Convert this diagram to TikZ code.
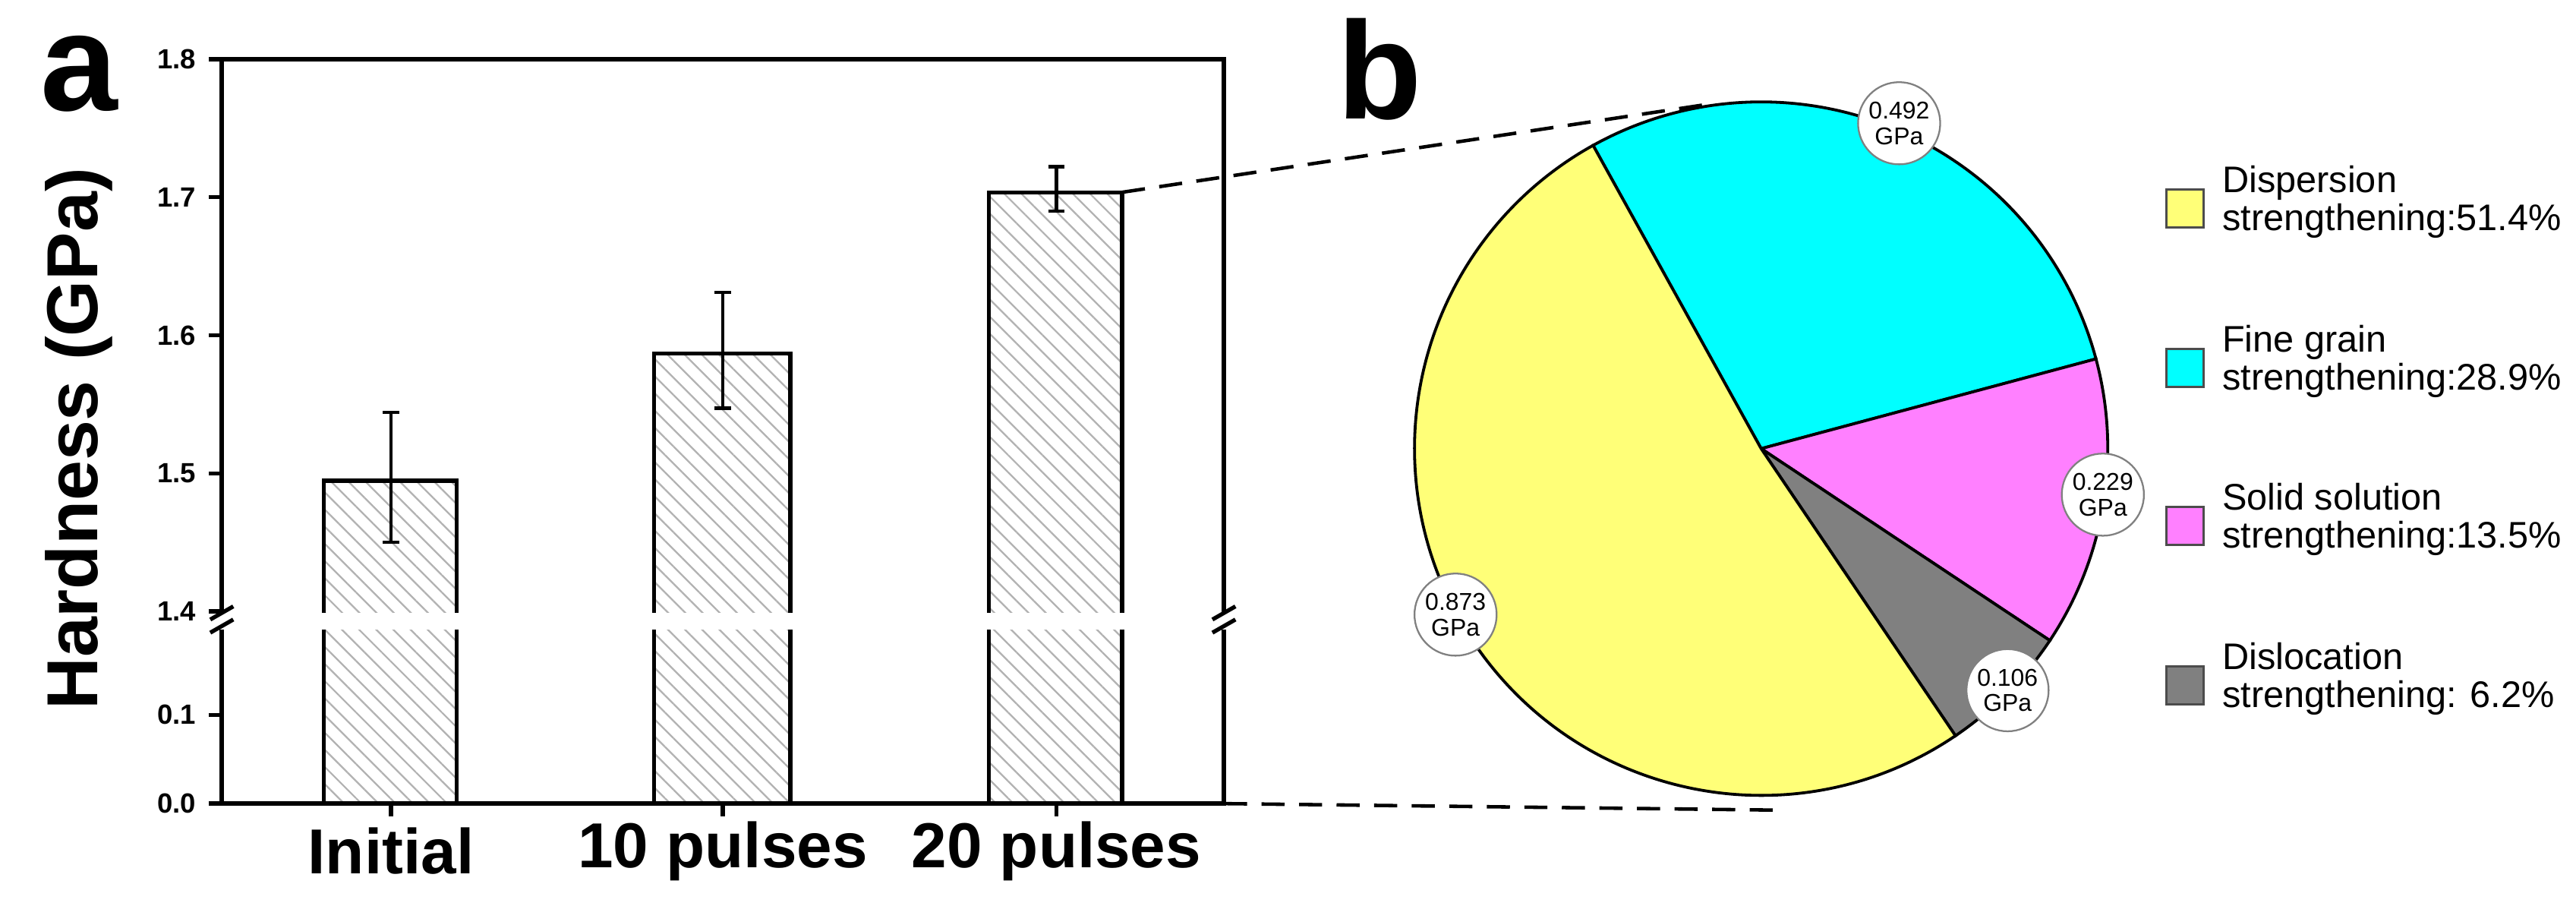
\documentclass[tikz,border=0pt]{standalone}
\usepackage{fontspec}
\setmainfont{Liberation Sans}
\usetikzlibrary{patterns.meta}
\definecolor{pyellow}{RGB}{255,255,120}
\definecolor{pcyan}{RGB}{0,255,255}
\definecolor{ppink}{RGB}{255,128,255}
\definecolor{pgray}{RGB}{128,128,128}
\begin{document}
\begin{tikzpicture}[x=0.01cm,y=-0.01cm,
  ax/.style={line width=0.7pt},
  barbox/.style={line width=0.7pt, pattern={Lines[angle=-45,distance=2.1pt,line width=0.3pt]}, pattern color=black!30},
  errb/.style={line width=0.6pt},
  ticklab/.style={font=\bfseries\fontsize{4.8}{5.5}\selectfont, anchor=east, inner sep=0pt},
  catlab/.style={font=\bfseries\fontsize{11}{12}\selectfont, inner sep=0pt},
  panel/.style={font=\bfseries\fontsize{24}{26}\selectfont, inner sep=0pt},
  vallab/.style={circle, draw=black!50, fill=white, line width=0.3pt, minimum size=50*0.01cm, inner sep=0pt, align=center, font=\fontsize{4.2}{4.4}\selectfont},
  legbox/.style={draw=black!70, line width=0.4pt, minimum size=23*0.01cm, inner sep=0pt},
  legtext/.style={anchor=west, align=left, inner sep=0pt, font=\fontsize{6.4}{6.6}\selectfont},
  dashl/.style={dashed, line width=0.6pt, dash pattern=on 4pt off 2.5pt}]
\useasboundingbox (0,0) rectangle (1568,551);
% bars
\draw[barbox] (197,489) rectangle (278,292.5);
\draw[barbox] (398,489) rectangle (481,215.2);
\draw[barbox] (602,489) rectangle (683,117.0);
\coordinate (b3tr) at (683,117.0);
% error bars
\foreach \xc/\ya/\yb in {238/251.0/330.0, 440/178.0/248.5, 643/101.5/128.4}{
  \draw[errb] (\xc,\ya) -- (\xc,\yb);
  \draw[errb] (\xc-5,\ya) -- (\xc+5,\ya);
  \draw[errb] (\xc-5,\yb) -- (\xc+5,\yb);
}
% axes box
\draw[ax] (135,36) -- (745,36) -- (745,489) -- (135,489) -- cycle;
\coordinate (axbr) at (745,489);
% break gap
\fill[white] (125,373) rectangle (755,383);
\draw[ax] (128,377) -- (142,369);
\draw[ax] (128,385) -- (142,377);
\draw[ax] (738,377) -- (752,369);
\draw[ax] (738,385) -- (752,377);
% y ticks
\foreach \yy/\lab in {36/1.8,120/1.7,204/1.6,288/1.5,372/1.4,435/0.1,489/0.0}{
  \draw[ax] (127,\yy) -- (135,\yy);
  \node[ticklab] at (120,\yy) {\lab};
}
% x ticks and labels
\foreach \xc/\lab/\nm in {238/Initial/c1,440/10 pulses/c2,643/20 pulses/c3}{
  \draw[ax] (\xc,489) -- (\xc,497);
  \node[catlab] (\nm) at (\xc,518) {\lab};
}
\node[panel] (pa) at (48,45) {a};
\node[panel] (pb) at (840,42) {b};
\node[rotate=90, font=\bfseries\fontsize{12.5}{13}\selectfont, inner sep=0pt] (ylab) at (48,267) {Hardness (GPa)};
% pie
\begin{scope}[shift={(1072,273)}, yscale=-1]
  \coordinate (pc) at (0,0);
  \filldraw[fill=pcyan, line width=0.5pt] (0,0) -- (119:211) arc[start angle=119, end angle=15, radius=211] -- cycle;
  \filldraw[fill=ppink, line width=0.5pt] (0,0) -- (15:211) arc[start angle=15, end angle=-33.6, radius=211] -- cycle;
  \filldraw[fill=pgray, line width=0.5pt] (0,0) -- (-33.6:211) arc[start angle=-33.6, end angle=-55.9, radius=211] -- cycle;
  \filldraw[fill=pyellow, line width=0.5pt] (0,0) -- (-55.9:211) arc[start angle=-55.9, end angle=-241, radius=211] -- cycle;
  \coordinate (ptop) at (-36,209);
  \coordinate (pbot) at (12,-211);
\end{scope}
\draw[dashl] (b3tr) -- (ptop);
\draw[dashl] (axbr) -- (1084,493);
\node[vallab] (v1) at (1156,75) {0.492\\GPa};
\node[vallab] (v2) at (1280,301) {0.229\\GPa};
\node[vallab] (v3) at (1222,420) {0.106\\GPa};
\node[vallab] (v4) at (886,374) {0.873\\GPa};
% legend
\node[legbox, fill=pyellow] (l1) at (1330,127) {};
\node[legbox, fill=pcyan] (l2) at (1330,224) {};
\node[legbox, fill=ppink] (l3) at (1330,320) {};
\node[legbox, fill=pgray] (l4) at (1330,417) {};
\node[legtext] (t1) at (1352,123) {Dispersion\\strengthening:51.4\%};
\node[legtext] (t2) at (1352,220) {Fine grain\\strengthening:28.9\%};
\node[legtext] (t3) at (1352,316) {Solid solution\\strengthening:13.5\%};
\node[legtext] (t4) at (1352,413) {Dislocation\\strengthening: 6.2\%};
\end{tikzpicture}
\end{document}
